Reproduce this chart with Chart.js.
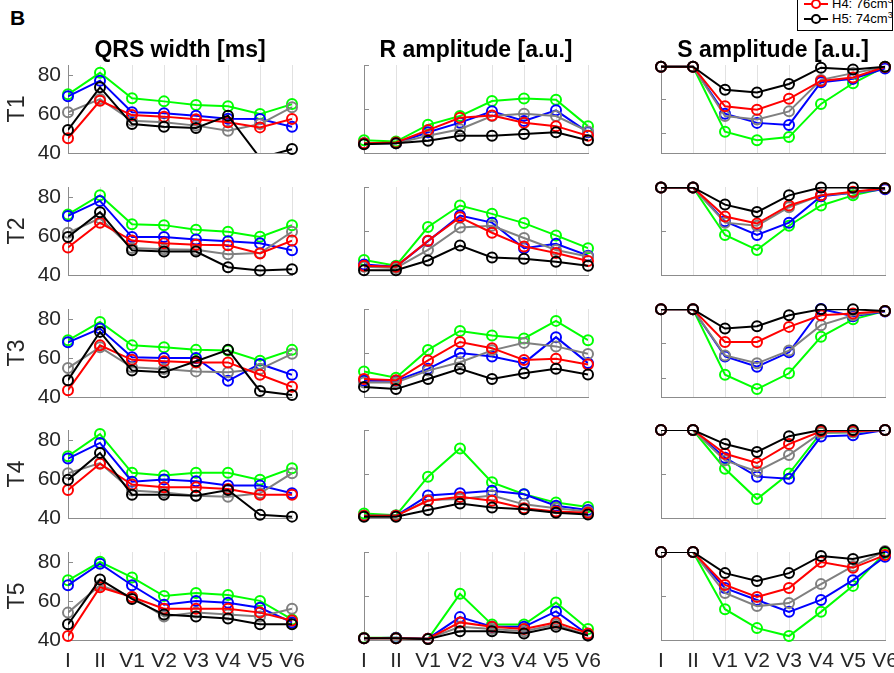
<!DOCTYPE html>
<html><head><meta charset="utf-8">
<script src="https://cdn.jsdelivr.net/npm/chart.js@4/dist/chart.umd.min.js"></script>
<style>
html,body{margin:0;padding:0;background:#fff;}
body{width:894px;height:673px;position:relative;overflow:hidden;font-family:"Liberation Sans",Arial,Helvetica,sans-serif;}
.panel{position:absolute;}
.title{position:absolute;font-weight:bold;font-size:23px;line-height:26px;color:#000;transform:translateX(-50%);white-space:nowrap;}
.rowlab{position:absolute;font-size:23px;line-height:26px;color:#262626;transform:translate(-50%,-50%) rotate(-90deg);white-space:nowrap;}
#blab{position:absolute;left:10px;top:6px;font-weight:bold;font-size:21px;line-height:24px;}
#legend{position:absolute;left:797px;top:-14px;width:94px;height:43px;border:1px solid #000;background:#fff;font-size:13px;line-height:15px;}
.lrow{position:absolute;left:4px;height:15px;width:90px;}
.lline{position:absolute;left:2px;top:7px;width:24px;height:2px;}
.ldot{position:absolute;left:9px;top:3px;width:6px;height:6px;border-radius:50%;border:2px solid;background:#fff;}
.ltxt{position:absolute;left:30px;top:0;white-space:nowrap;}
sup{font-size:9px;line-height:0;}
</style>
</head><body>
<div id="blab">B</div>
<div id="legend">
  <div class="lrow" style="top:9px"><div class="lline" style="background:#ff0000"></div><div class="ldot" style="border-color:#ff0000"></div><div class="ltxt">H4: 76cm<sup>3</sup></div></div>
  <div class="lrow" style="top:24px"><div class="lline" style="background:#000"></div><div class="ldot" style="border-color:#000"></div><div class="ltxt">H5: 74cm<sup>3</sup></div></div>
</div>
<script>
// ---------- categories, series, ticks ----------
const categories = ['I','II','V1','V2','V3','V4','V5','V6'];
const seriesNames = ['H1','H2','H3','H4','H5'];
const seriesColors = ['#00ff00','#0000ff','#808080','#ff0000','#000000'];
const rowNames = ['T1','T2','T3','T4','T5'];
const columnTitles = ['QRS width [ms]','R amplitude [a.u.]','S amplitude [a.u.]'];
const qrsTicks = [40,60,80];
const rTicks = [0,1,2];
const sTicks = [0,-1,-2];

// ---------- QRS width [ms] ----------
const QRS_T1_H1 = [70, 81, 68, 66.4, 64.5, 63.9, 59.9, 65];
const QRS_T1_H2 = [69, 77, 60.8, 60.3, 59.1, 57.5, 57.4, 53.4];
const QRS_T1_H3 = [60.8, 67.6, 56.5, 55.7, 54, 51.4, 54.8, 63.4];
const QRS_T1_H4 = [47.5, 66.7, 59.4, 58.6, 57.2, 55.7, 53.1, 57.4];
const QRS_T1_H5 = [51.8, 73.6, 54.8, 53.4, 52.8, 59.1, 37.5, 42];

const QRS_T2_H1 = [71, 80.8, 66, 65.5, 63.2, 62.1, 59.5, 65.5];
const QRS_T2_H2 = [70.2, 77.9, 59.4, 59.4, 58.2, 57.3, 56.2, 52.6];
const QRS_T2_H3 = [61.6, 69, 53.8, 53.2, 52.9, 50.6, 51.2, 62.1];
const QRS_T2_H4 = [54.1, 66.7, 57.6, 56.2, 55.5, 55.2, 51, 57.6];
const QRS_T2_H5 = [59.4, 72.1, 52.6, 52, 52, 44, 42.3, 43];

const QRS_T3_H1 = [69, 78.4, 66.4, 65.5, 64.1, 63.8, 58.6, 64.1];
const QRS_T3_H2 = [68, 75, 60.3, 60, 60, 48.3, 56.9, 51.4];
const QRS_T3_H3 = [54.8, 65.5, 55.2, 54.3, 53.1, 52.6, 54.3, 62.1];
const QRS_T3_H4 = [43.5, 66.4, 59, 58.3, 57.7, 57.7, 51.4, 45.2];
const QRS_T3_H5 = [48.6, 73.3, 53.5, 52.6, 58.3, 64.1, 43.1, 41];

const QRS_T4_H1 = [71.6, 82.9, 63.1, 61.7, 63.1, 63.1, 59.5, 65.5];
const QRS_T4_H2 = [70.4, 78.4, 58.6, 59.7, 58.8, 56.6, 56.6, 52.6];
const QRS_T4_H3 = [62.9, 68.1, 54, 53.1, 51.4, 50.9, 52.6, 62.9];
const QRS_T4_H4 = [54.3, 67.8, 57.1, 55.7, 55.7, 54.8, 51.9, 51.9];
const QRS_T4_H5 = [59.5, 73.3, 51.9, 51.9, 51.4, 54.3, 41.6, 40.7];

const QRS_T5_H1 = [70.5, 80, 72, 62.5, 64, 63, 60, 50.5];
const QRS_T5_H2 = [68, 79, 68, 58, 60, 59, 56.5, 49];
const QRS_T5_H3 = [54, 68, 62, 52, 54, 53, 52, 56];
const QRS_T5_H4 = [42, 67, 62, 56, 56, 56, 54, 50];
const QRS_T5_H5 = [48, 71, 61, 53, 52, 51, 48, 48];

// ---------- R amplitude [a.u.] ----------
const R_T1_H1 = [0.29, 0.26, 0.64, 0.84, 1.18, 1.24, 1.21, 0.61];
const R_T1_H2 = [0.22, 0.22, 0.47, 0.69, 0.95, 0.73, 0.97, 0.47];
const R_T1_H3 = [0.22, 0.22, 0.39, 0.54, 0.84, 0.89, 0.84, 0.49];
const R_T1_H4 = [0.22, 0.24, 0.52, 0.80, 0.85, 0.69, 0.61, 0.39];
const R_T1_H5 = [0.20, 0.22, 0.28, 0.39, 0.39, 0.43, 0.47, 0.29];

const R_T2_H1 = [0.34, 0.21, 1.09, 1.58, 1.39, 1.18, 0.90, 0.61];
const R_T2_H2 = [0.24, 0.19, 0.77, 1.35, 1.19, 0.61, 0.71, 0.44];
const R_T2_H3 = [0.19, 0.16, 0.57, 1.08, 1.12, 0.84, 0.57, 0.42];
const R_T2_H4 = [0.21, 0.19, 0.78, 1.31, 0.96, 0.65, 0.50, 0.32];
const R_T2_H5 = [0.11, 0.11, 0.33, 0.67, 0.40, 0.37, 0.30, 0.21];

const R_T3_H1 = [0.58, 0.44, 1.07, 1.50, 1.40, 1.33, 1.73, 1.29];
const R_T3_H2 = [0.37, 0.37, 0.64, 1.00, 0.92, 0.77, 1.36, 0.77];
const R_T3_H3 = [0.33, 0.33, 0.60, 0.79, 1.06, 1.23, 1.15, 0.98];
const R_T3_H4 = [0.41, 0.38, 0.83, 1.25, 1.11, 0.84, 0.87, 0.74];
const R_T3_H5 = [0.23, 0.18, 0.41, 0.64, 0.41, 0.54, 0.64, 0.51];

const R_T4_H1 = [0.10, 0.06, 0.94, 1.58, 0.81, 0.54, 0.35, 0.25];
const R_T4_H2 = [0.05, 0.05, 0.51, 0.56, 0.62, 0.54, 0.28, 0.18];
const R_T4_H3 = [0.05, 0.05, 0.41, 0.43, 0.51, 0.31, 0.22, 0.15];
const R_T4_H4 = [0.05, 0.05, 0.39, 0.48, 0.39, 0.22, 0.15, 0.12];
const R_T4_H5 = [0.03, 0.03, 0.18, 0.33, 0.24, 0.20, 0.12, 0.08];

const R_T5_H1 = [0.05, 0.05, 0.02, 1.05, 0.35, 0.35, 0.85, 0.25];
const R_T5_H2 = [0.04, 0.05, 0.03, 0.52, 0.30, 0.30, 0.65, 0.12];
const R_T5_H3 = [0.04, 0.04, 0.03, 0.30, 0.25, 0.20, 0.35, 0.10];
const R_T5_H4 = [0.04, 0.04, 0.03, 0.40, 0.30, 0.25, 0.40, 0.15];
const R_T5_H5 = [0.04, 0.04, 0.02, 0.20, 0.20, 0.15, 0.30, 0.10];

// ---------- S amplitude [a.u.] ----------
const S_T1_H1 = [-0.05, -0.05, -1.97, -2.22, -2.13, -1.15, -0.54, -0.05];
const S_T1_H2 = [-0.05, -0.05, -1.44, -1.71, -1.77, -0.51, -0.41, -0.10];
const S_T1_H3 = [-0.05, -0.05, -1.51, -1.61, -1.37, -0.44, -0.24, -0.06];
const S_T1_H4 = [-0.05, -0.05, -1.22, -1.32, -1.00, -0.47, -0.37, -0.06];
const S_T1_H5 = [-0.05, -0.05, -0.73, -0.81, -0.56, -0.08, -0.13, -0.05];

const S_T2_H1 = [-0.01, -0.01, -1.09, -1.43, -0.88, -0.42, -0.19, -0.03];
const S_T2_H2 = [-0.01, -0.01, -0.78, -1.09, -0.81, -0.21, -0.13, -0.05];
const S_T2_H3 = [-0.01, -0.01, -0.81, -0.88, -0.46, -0.19, -0.13, -0.03];
const S_T2_H4 = [-0.01, -0.01, -0.67, -0.83, -0.42, -0.19, -0.11, -0.03];
const S_T2_H5 = [-0.01, -0.01, -0.40, -0.57, -0.19, -0.01, -0.01, -0.03];

const S_T3_H1 = [-0.01, -0.01, -1.91, -2.33, -1.87, -0.81, -0.30, -0.06];
const S_T3_H2 = [-0.01, -0.01, -1.38, -1.68, -1.26, 0.00, -0.21, -0.07];
const S_T3_H3 = [-0.01, -0.01, -1.35, -1.58, -1.21, -0.47, -0.18, -0.06];
const S_T3_H4 = [-0.01, -0.01, -0.96, -0.96, -0.52, -0.18, -0.13, -0.06];
const S_T3_H5 = [-0.01, -0.01, -0.57, -0.50, -0.18, -0.01, -0.01, -0.06];

const S_T4_H1 = [0, 0, -0.88, -1.57, -0.99, -0.06, -0.05, 0];
const S_T4_H2 = [0, 0, -0.63, -1.06, -1.11, -0.15, -0.12, 0];
const S_T4_H3 = [0, 0, -0.69, -0.94, -0.57, -0.06, -0.05, 0];
const S_T4_H4 = [0, 0, -0.54, -0.75, -0.32, -0.03, -0.03, 0];
const S_T4_H5 = [0, 0, -0.32, -0.50, -0.14, 0, 0, 0];

const S_T5_H1 = [0, 0, -1.30, -1.73, -1.91, -1.36, -0.77, -0.02];
const S_T5_H2 = [0, 0, -0.82, -1.09, -1.36, -1.09, -0.64, -0.11];
const S_T5_H3 = [0, 0, -0.93, -1.23, -1.16, -0.73, -0.32, 0.02];
const S_T5_H4 = [0, 0, -0.75, -1.02, -0.82, -0.23, -0.36, -0.07];
const S_T5_H5 = [0, 0, -0.48, -0.66, -0.48, -0.09, -0.16, 0];

// axis limits per row (S column ranges differ per row)
const qrsLimits = [40, 85];
const rLimits = [0, 2];
const sMinByRow = [-2.6, -2.0, -2.56, -2.0, -2.0];

// ---------- assemble panels ----------
const panelData = [
  [[QRS_T1_H1,QRS_T1_H2,QRS_T1_H3,QRS_T1_H4,QRS_T1_H5],[R_T1_H1,R_T1_H2,R_T1_H3,R_T1_H4,R_T1_H5],[S_T1_H1,S_T1_H2,S_T1_H3,S_T1_H4,S_T1_H5]],
  [[QRS_T2_H1,QRS_T2_H2,QRS_T2_H3,QRS_T2_H4,QRS_T2_H5],[R_T2_H1,R_T2_H2,R_T2_H3,R_T2_H4,R_T2_H5],[S_T2_H1,S_T2_H2,S_T2_H3,S_T2_H4,S_T2_H5]],
  [[QRS_T3_H1,QRS_T3_H2,QRS_T3_H3,QRS_T3_H4,QRS_T3_H5],[R_T3_H1,R_T3_H2,R_T3_H3,R_T3_H4,R_T3_H5],[S_T3_H1,S_T3_H2,S_T3_H3,S_T3_H4,S_T3_H5]],
  [[QRS_T4_H1,QRS_T4_H2,QRS_T4_H3,QRS_T4_H4,QRS_T4_H5],[R_T4_H1,R_T4_H2,R_T4_H3,R_T4_H4,R_T4_H5],[S_T4_H1,S_T4_H2,S_T4_H3,S_T4_H4,S_T4_H5]],
  [[QRS_T5_H1,QRS_T5_H2,QRS_T5_H3,QRS_T5_H4,QRS_T5_H5],[R_T5_H1,R_T5_H2,R_T5_H3,R_T5_H4,R_T5_H5],[S_T5_H1,S_T5_H2,S_T5_H3,S_T5_H4,S_T5_H5]]
];

const FONT = '"Liberation Sans", Arial, Helvetica, sans-serif';
const AXIS_COLOR = '#8c8c8c';
const colLeft = [68, 364, 661];
const rowTop = [65, 187, 309, 430, 552];
const plotW = 224, plotH = 88;

const inTicks = {
  id: 'inTicks',
  beforeDatasetsDraw(chart) {
    const y = chart.scales.y, a = chart.chartArea, c = chart.ctx;
    c.save(); c.strokeStyle = AXIS_COLOR; c.lineWidth = 1;
    y.ticks.forEach(t => {
      const py = Math.round(y.getPixelForValue(t.value)) + 0.5;
      c.beginPath(); c.moveTo(a.left, py); c.lineTo(a.left + 5, py); c.stroke();
    });
    c.restore();
  }
};

function makePanel(row, col) {
  const series = panelData[row][col];
  const lastRow = row === 4;
  let yMin, yMax, yTicks;
  if (col === 0) { yMin = qrsLimits[0]; yMax = qrsLimits[1]; yTicks = qrsTicks; }
  else if (col === 1) { yMin = rLimits[0]; yMax = rLimits[1]; yTicks = rTicks; }
  else { yMin = sMinByRow[row]; yMax = 0; yTicks = sTicks; }
  const padL = 50, padT = 20, padR = 25, padB = lastRow ? 0 : 20, xH = lastRow ? 42 : 0;
  const W = padL + plotW + padR, H = padT + plotH + padB + xH;
  const div = document.createElement('div');
  div.className = 'panel';
  div.style.left = (colLeft[col] - padL) + 'px';
  div.style.top = (rowTop[row] - padT) + 'px';
  div.style.width = W + 'px'; div.style.height = H + 'px';
  const cv = document.createElement('canvas');
  cv.width = W; cv.height = H;
  div.appendChild(cv); document.body.appendChild(div);
  const span = yMax - yMin;
  const datasets = [];
  for (let k = 4; k >= 0; k--) {
    datasets.push({
      label: seriesNames[k] + ' markers', data: series[k], showLine: false,
      pointRadius: ctx => { const v = ctx.raw; return (v < yMin - 0.02 * span || v > yMax + 0.02 * span) ? 0 : 5; },
      pointHoverRadius: 0, pointStyle: 'circle', pointBorderWidth: 2,
      pointBorderColor: seriesColors[k], pointBackgroundColor: 'rgba(0,0,0,0)',
      borderColor: seriesColors[k], clip: false
    });
    datasets.push({
      label: seriesNames[k], data: series[k], borderColor: seriesColors[k], borderWidth: 2,
      pointRadius: 0, tension: 0, fill: false, clip: 0
    });
  }
  new Chart(cv, {
    type: 'line',
    data: { labels: categories, datasets },
    plugins: [inTicks],
    options: {
      responsive: false, animation: false, events: [],
      layout: { padding: { left: 0, top: padT, right: padR, bottom: padB } },
      plugins: { legend: { display: false }, tooltip: { enabled: false }, title: { display: false } },
      scales: {
        x: {
          type: 'category', offset: false,
          grid: { display: true, color: '#e2e2e2', lineWidth: 1, drawTicks: false },
          border: { display: true, color: AXIS_COLOR, width: 1 },
          ticks: { display: lastRow, color: '#262626', font: { family: FONT, size: 21 }, padding: 9, maxRotation: 0, autoSkip: false },
          afterFit: s => { s.height = xH; }
        },
        y: {
          type: 'linear', min: yMin, max: yMax,
          grid: { display: true, drawOnChartArea: false, drawTicks: false },
          border: { display: true, color: AXIS_COLOR, width: 1 },
          ticks: { display: col === 0, color: '#262626', font: { family: FONT, size: 21 }, padding: 7 },
          afterBuildTicks: s => { s.ticks = yTicks.map(v => ({ value: v })); },
          afterFit: s => { s.width = padL; }
        }
      }
    }
  });
}

for (let r = 0; r < 5; r++) for (let c = 0; c < 3; c++) makePanel(r, c);

// titles and row labels
columnTitles.forEach((t, c) => {
  const d = document.createElement('div'); d.className = 'title';
  d.textContent = t; d.style.left = (colLeft[c] + plotW / 2) + 'px'; d.style.top = '36px';
  document.body.appendChild(d);
});
rowNames.forEach((t, r) => {
  const d = document.createElement('div'); d.className = 'rowlab';
  d.textContent = t; d.style.left = '16px'; d.style.top = (rowTop[r] + plotH / 2) + 'px';
  document.body.appendChild(d);
});
document.body.appendChild(document.getElementById('legend'));
</script>
</body></html>
